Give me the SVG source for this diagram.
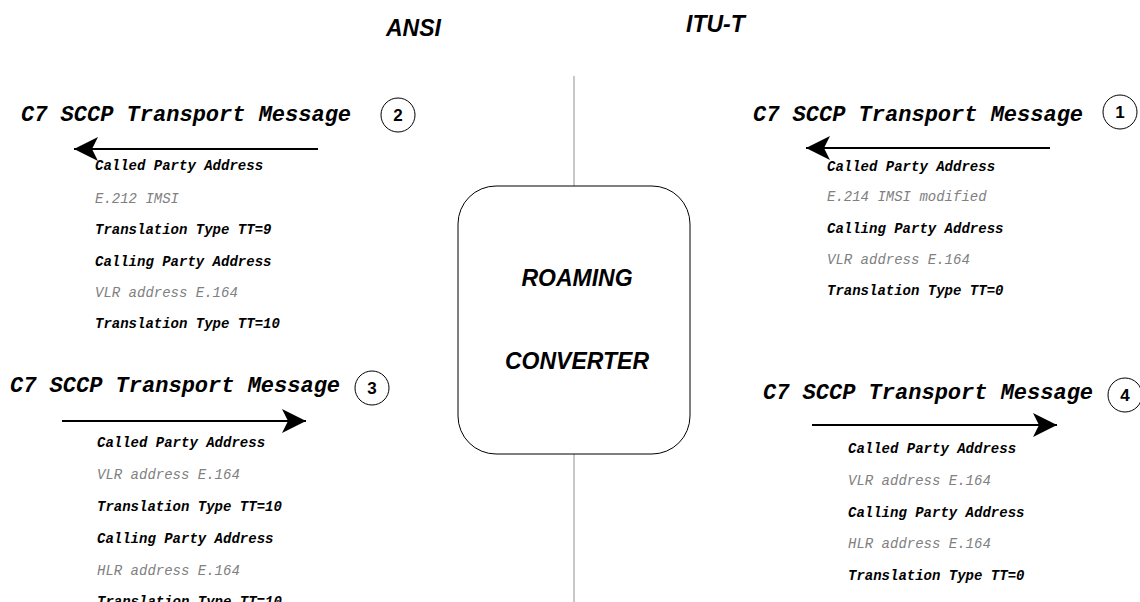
<svg xmlns="http://www.w3.org/2000/svg" width="1140" height="602" viewBox="0 0 1140 602">
<style>
.hdr{font-family:"Liberation Sans",Arial,sans-serif;font-weight:bold;font-style:italic;font-size:23px;fill:#000}
.ttl{font-family:"Liberation Mono","Courier New",monospace;font-weight:bold;font-style:italic;font-size:22px;fill:#000}
.b{font-family:"Liberation Mono","Courier New",monospace;font-weight:bold;font-style:italic;font-size:14px;fill:#000}
.g{font-family:"Liberation Mono","Courier New",monospace;font-style:italic;font-size:14px;fill:#808080}
.num{font-family:"Liberation Sans",Arial,sans-serif;font-weight:bold;font-size:17px;fill:#000;text-anchor:middle}
.circ{fill:#fff;stroke:#000;stroke-width:1}
.arr{stroke:#000;stroke-width:2;fill:none;marker-end:url(#ah)}
</style>
<defs>
<marker id="ah" viewBox="0 0 26 26" refX="25" refY="13" markerWidth="26" markerHeight="26" orient="auto" markerUnits="userSpaceOnUse">
<path d="M1,1 L25,13 L1,25 L7,13 Z" fill="#000"/>
</marker>
</defs>
<rect width="1140" height="602" fill="#fff"/>
<line id="divider" x1="574" y1="76" x2="574" y2="602" stroke="#909090" stroke-width="1"/>
<text class="hdr" x="386" y="36">ANSI</text>
<text class="hdr" x="686" y="32">ITU-T</text>
<g id="converter">
<rect x="458" y="186" width="232" height="268" rx="38" ry="38" fill="#fff" stroke="#000" stroke-width="1"/>
<text class="hdr" x="577" y="286" text-anchor="middle">ROAMING</text>
<text class="hdr" x="577" y="369" text-anchor="middle">CONVERTER</text>
</g>
<g id="connectors">
<line class="arr" x1="318" y1="149" x2="74" y2="149"/>
<line class="arr" x1="62" y1="421" x2="306" y2="421"/>
<line class="arr" x1="1050" y1="148" x2="806" y2="148"/>
<line class="arr" x1="812" y1="425" x2="1057" y2="425"/>
</g>
<g id="msg2">
<text class="ttl" x="21" y="121">C7 SCCP Transport Message</text>
<circle class="circ" cx="398" cy="115" r="17"/>
<text class="num" x="398" y="121">2</text>
<text class="b" x="95" y="170">Called Party Address</text>
<text class="g" x="95" y="203">E.212 IMSI</text>
<text class="b" x="95" y="234">Translation Type TT=9</text>
<text class="b" x="95" y="266">Calling Party Address</text>
<text class="g" x="95" y="297">VLR address E.164</text>
<text class="b" x="95" y="328">Translation Type TT=10</text>
</g>
<g id="msg3">
<text class="ttl" x="10" y="392">C7 SCCP Transport Message</text>
<circle class="circ" cx="372" cy="388" r="17"/>
<text class="num" x="372" y="394">3</text>
<text class="b" x="97" y="447">Called Party Address</text>
<text class="g" x="97" y="479">VLR address E.164</text>
<text class="b" x="97" y="511">Translation Type TT=10</text>
<text class="b" x="97" y="543">Calling Party Address</text>
<text class="g" x="97" y="575">HLR address E.164</text>
<text class="b" x="97" y="606">Translation Type TT=10</text>
</g>
<g id="msg1">
<text class="ttl" x="753" y="121">C7 SCCP Transport Message</text>
<circle class="circ" cx="1120" cy="112" r="17"/>
<text class="num" x="1120" y="118">1</text>
<text class="b" x="827" y="171">Called Party Address</text>
<text class="g" x="827" y="201">E.214 IMSI modified</text>
<text class="b" x="827" y="233">Calling Party Address</text>
<text class="g" x="827" y="264">VLR address E.164</text>
<text class="b" x="827" y="295">Translation Type TT=0</text>
</g>
<g id="msg4">
<text class="ttl" x="763" y="399">C7 SCCP Transport Message</text>
<circle class="circ" cx="1125" cy="395" r="17"/>
<text class="num" x="1125" y="401">4</text>
<text class="b" x="848" y="453">Called Party Address</text>
<text class="g" x="848" y="485">VLR address E.164</text>
<text class="b" x="848" y="517">Calling Party Address</text>
<text class="g" x="848" y="548">HLR address E.164</text>
<text class="b" x="848" y="580">Translation Type TT=0</text>
</g>
</svg>
